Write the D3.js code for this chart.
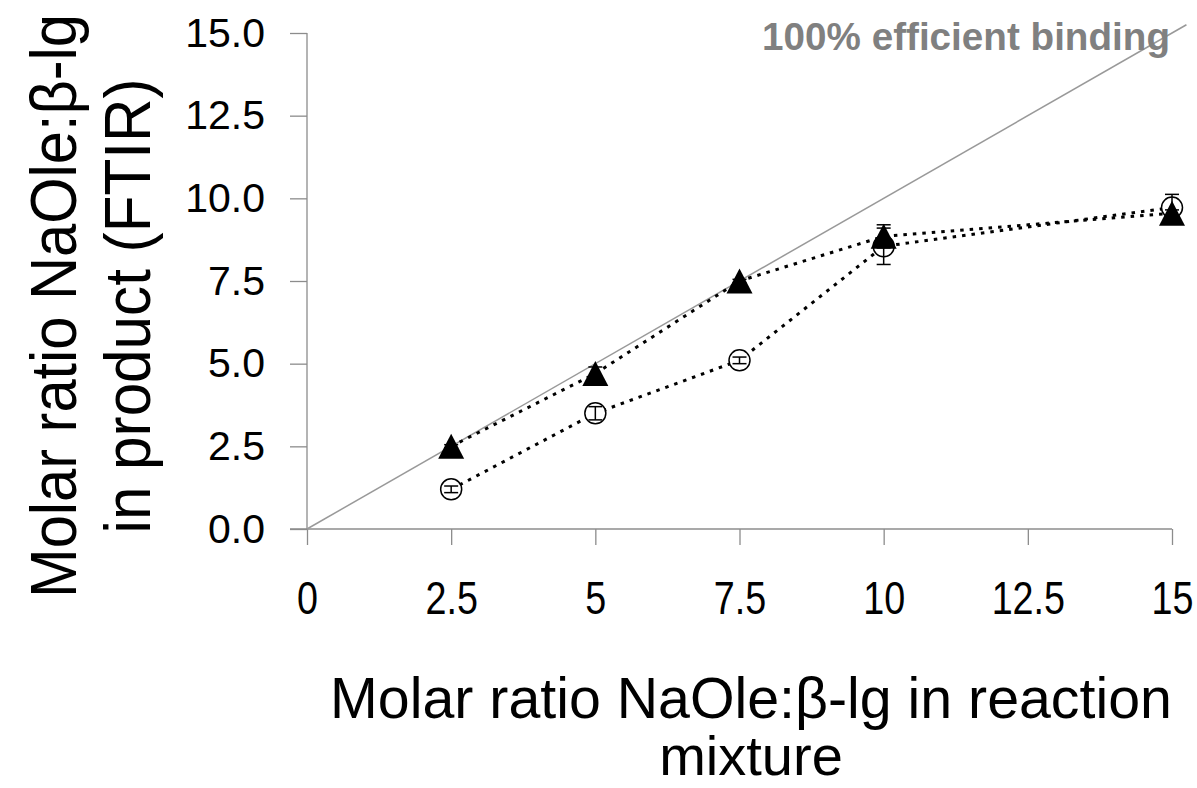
<!DOCTYPE html>
<html>
<head>
<meta charset="utf-8">
<script src="https://cdn.jsdelivr.net/npm/d3@7"></script>
<style>
  html, body { margin: 0; padding: 0; background: #fff; }
  svg { display: block; }
</style>
</head>
<body>
<svg id="chart" width="1197" height="788"></svg>
<script>
// ---- data ----
const xValues = [2.5, 5, 7.5, 10, 15];
const triangleValues = [2.5, 4.7, 7.5, 8.85, 9.55];
const triangleErrors = [0.05, 0.2, 0.05, 0.35, 0.1];
const circleValues = [1.2, 3.5, 5.1, 8.55, 9.72];
const circleErrors = [0.1, 0.2, 0.1, 0.55, 0.4];
const xTicks = [0, 2.5, 5, 7.5, 10, 12.5, 15];
const yTicks = [0, 2.5, 5, 7.5, 10, 12.5, 15];
const idealLine = [0, 15.25];
const idealLabel = "100% efficient binding";
const xTitle = ["Molar ratio NaOle:β-lg in reaction", "mixture"];
const yTitle = ["Molar ratio NaOle:β-lg", "in product (FTIR)"];

const font = "'Liberation Sans', Arial, Helvetica, sans-serif";
const svg = d3.select("#chart");

const x = d3.scaleLinear().domain([0, 15]).range([307, 1172]);
const y = d3.scaleLinear().domain([0, 15]).range([529, 33]);

// squeeze a text horizontally (about its own x origin) to a target width
function squeezeTo(sel, target) {
  sel.each(function () {
    const w = this.getComputedTextLength();
    const s = typeof target === "function" ? target(w) : target / w;
    d3.select(this).attr("transform", `scale(${Math.min(1, s)},1)`);
  });
}

// axes
const axisColor = "#8c8c8c";
const gx = svg.append("g").attr("transform", `translate(0,${y(0)})`)
  .call(d3.axisBottom(x).tickValues(xTicks).tickSize(16).tickSizeOuter(0).tickPadding(36)
    .tickFormat(d => d3.format("")(d)));
gx.select(".domain").remove();
gx.selectAll(".tick line").attr("stroke", axisColor).attr("stroke-width", 1.3);
gx.selectAll("text").attr("font-family", font).attr("font-size", 46).attr("fill", "#000")
  .call(squeezeTo, () => 0.82);
svg.append("line").attr("x1", 290).attr("x2", x(15)).attr("y1", y(0)).attr("y2", y(0))
  .attr("stroke", axisColor).attr("stroke-width", 1.3);

const gy = svg.append("g").attr("transform", `translate(${x(0)},0)`)
  .call(d3.axisLeft(y).tickValues(yTicks).tickSize(17).tickSizeOuter(0).tickPadding(25)
    .tickFormat(d3.format(".1f")));
gy.select(".domain").remove();
gy.selectAll(".tick line").attr("stroke", axisColor).attr("stroke-width", 1.3);
gy.selectAll("text").attr("font-family", font).attr("font-size", 41).attr("fill", "#000");
svg.append("line").attr("x1", x(0)).attr("x2", x(0)).attr("y1", y(15)).attr("y2", y(0))
  .attr("stroke", axisColor).attr("stroke-width", 1.3);

// ideal line
svg.append("line")
  .attr("x1", x(idealLine[0])).attr("y1", y(idealLine[0]))
  .attr("x2", x(idealLine[1])).attr("y2", y(idealLine[1]))
  .attr("stroke", "#999").attr("stroke-width", 1.5);

svg.append("g").attr("transform", "translate(1170,50)")
  .append("text").attr("x", 0).attr("y", 0).attr("text-anchor", "end")
  .attr("font-family", font).attr("font-weight", "bold").attr("font-size", 39)
  .attr("fill", "#808080")
  .text(idealLabel)
  .call(squeezeTo, 408);

const line = d3.line().x(d => x(d[0])).y(d => y(d[1]));
const circlePts = xValues.map((v, i) => [v, circleValues[i], circleErrors[i]]);
const triPts = xValues.map((v, i) => [v, triangleValues[i], triangleErrors[i]]);

svg.append("path").datum(circlePts).attr("d", line).attr("fill", "none")
  .attr("stroke", "#000").attr("stroke-width", 3).attr("stroke-dasharray", "3.5,6");
svg.append("path").datum(triPts).attr("d", line).attr("fill", "none")
  .attr("stroke", "#000").attr("stroke-width", 3).attr("stroke-dasharray", "3.5,6");

function errorBars(pts) {
  const g = svg.append("g").attr("stroke", "#000").attr("stroke-width", 1.5);
  pts.forEach(d => {
    g.append("line").attr("x1", x(d[0])).attr("x2", x(d[0]))
      .attr("y1", y(d[1] - d[2])).attr("y2", y(d[1] + d[2]));
    [d[1] - d[2], d[1] + d[2]].forEach(v => {
      g.append("line").attr("x1", x(d[0]) - 7).attr("x2", x(d[0]) + 7)
        .attr("y1", y(v)).attr("y2", y(v));
    });
  });
}

svg.append("g").selectAll("circle").data(circlePts).join("circle")
  .attr("cx", d => x(d[0])).attr("cy", d => y(d[1])).attr("r", 10.5)
  .attr("fill", "#fff").attr("stroke", "#000").attr("stroke-width", 1.5);
errorBars(circlePts);

const triW = 26, triH = 25;
const triPath = `M0,${-triH / 2}L${triW / 2},${triH / 2}L${-triW / 2},${triH / 2}Z`;
svg.append("g").selectAll("path").data(triPts).join("path")
  .attr("transform", d => `translate(${x(d[0])},${y(d[1])})`)
  .attr("d", triPath).attr("fill", "#000");
errorBars(triPts);

// axis titles
svg.append("g").attr("transform", "translate(751,718)")
  .append("text").attr("x", 0).attr("y", 0).attr("text-anchor", "middle")
  .attr("font-family", font).attr("font-size", 58).attr("fill", "#000")
  .text(xTitle[0])
  .call(squeezeTo, 842);
svg.append("text").attr("x", 751).attr("y", 775).attr("text-anchor", "middle")
  .attr("font-family", font).attr("font-size", 56).attr("fill", "#000")
  .text(xTitle[1]);

const yt = svg.append("g").attr("transform", "translate(0,306) rotate(-90)");
yt.append("text").attr("x", 0).attr("y", 76).attr("text-anchor", "middle")
  .attr("font-family", font).attr("font-size", 64).attr("fill", "#000")
  .text(yTitle[0])
  .call(squeezeTo, 584);
yt.append("text").attr("x", 0).attr("y", 150).attr("text-anchor", "middle")
  .attr("font-family", font).attr("font-size", 64).attr("fill", "#000")
  .text(yTitle[1])
  .call(squeezeTo, 455);
</script>
</body>
</html>
